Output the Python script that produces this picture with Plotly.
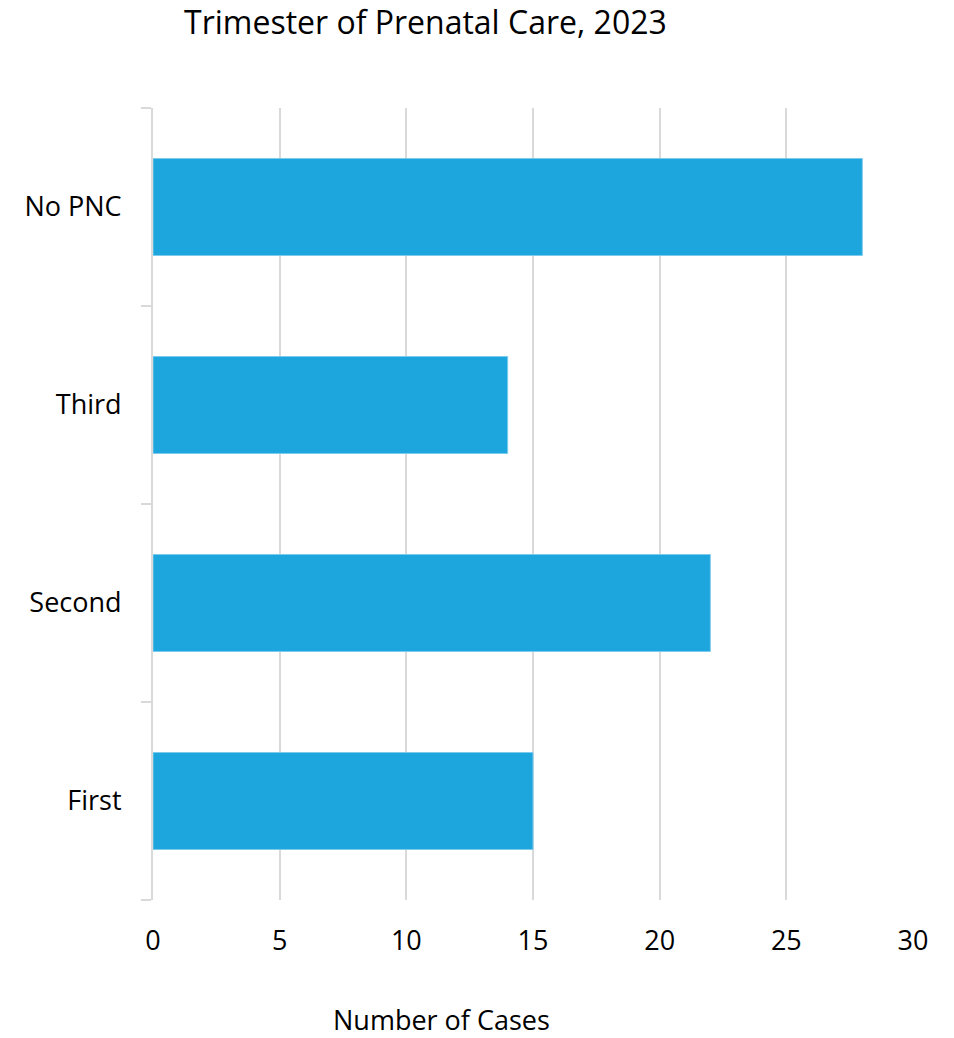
import plotly.graph_objects as go

categories = ["First", "Second", "Third", "No PNC"]
cases = [15, 22, 14, 28]
x_ticks = [0, 5, 10, 15, 20, 25, 30]

FONT = "Open Sans"
W, H = 954, 1038
L, R, T, B = 153, 41, 108, 138

fig = go.Figure(go.Bar(
    y=categories, x=cases, orientation="h",
    marker=dict(color="#1DA6DE", line=dict(color="#7CCBEE", width=1)),
    width=0.49,
))

fig.update_layout(
    width=W, height=H,
    margin=dict(l=L, r=R, t=T, b=B),
    paper_bgcolor="white", plot_bgcolor="white",
    showlegend=False,
    font=dict(family=FONT, size=27, color="#000000"),
    title=dict(text="Trimester of Prenatal Care, 2023", x=184/W, xanchor="left",
               xref="container", y=1-23/H, yanchor="middle", yref="container",
               font=dict(family=FONT, size=32, color="#000000")),
    bargap=0.51,
    annotations=[dict(text="Number of Cases",
                      x=(441 - L) / (W - L - R), y=(H - B - 1019) / (H - T - B),
                      xref="paper", yref="paper", showarrow=False,
                      xanchor="center", yanchor="middle",
                      font=dict(family=FONT, size=27, color="#000000"))],
)

fig.update_xaxes(
    range=[0, 30], tickvals=x_ticks, ticktext=[str(v) for v in x_ticks],
    showgrid=True, gridcolor="#D9D9D9", gridwidth=2,
    zeroline=False, showline=False, ticks="",
    tickfont=dict(size=27), ticklabelstandoff=22,
)
fig.update_yaxes(
    categoryorder="array", categoryarray=categories,
    showgrid=False, showline=True, linecolor="#D9D9D9", linewidth=2,
    ticks="outside", tickson="boundaries", ticklen=10, tickcolor="#D9D9D9", tickwidth=2,
    tickfont=dict(size=27), ticklabelstandoff=24,
)

fig.write_html("out.html")
